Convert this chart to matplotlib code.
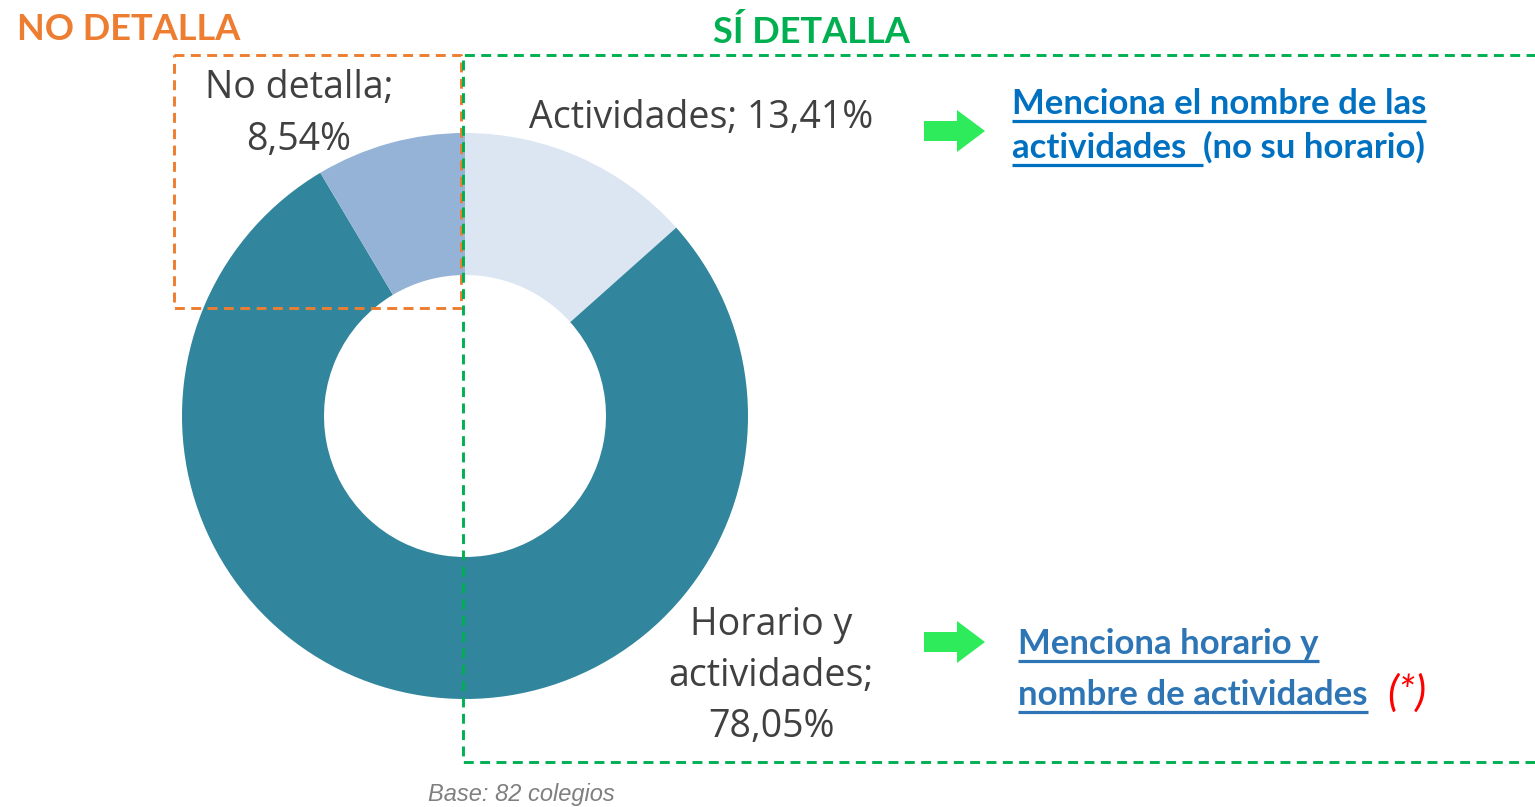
import matplotlib.pyplot as plt
from matplotlib.patches import Polygon
import numpy as np

W, H = 1535, 807

# donut shares, clockwise from the top
labels = ["Actividades", "Horario y\nactividades", "No detalla"]
shares = [13.41, 78.05, 8.54]
colors = ["#DCE6F2", "#31859C", "#95B3D7"]

base_note = "Base: 82 colegios"
note_top = ["Menciona el nombre de las", "actividades  "]
note_top_tail = "(no su horario)"
note_bottom = ["Menciona horario y", "nombre de actividades"]


def Y(y):
    # screen rows measured from the top
    return H - y


def pct(v):
    return f"{v:.2f}".replace(".", ",") + "%"


fig = plt.figure(figsize=(W / 100, H / 100), dpi=100)
ax = fig.add_axes([0, 0, 1, 1])
ax.set_xlim(0, W)
ax.set_ylim(0, H)
ax.axis("off")

ax.pie(shares, colors=colors, startangle=90, counterclock=False,
       center=(465, Y(416)), radius=283,
       wedgeprops=dict(width=142, linewidth=0))
ax.set_xlim(0, W)
ax.set_ylim(0, H)
ax.set_aspect("auto")

lab_kw = dict(family="Open Sans", fontsize=27, color="#404040",
              ha="center", va="center", linespacing=1.45)
ax.text(701, Y(118), f"{labels[0]}; {pct(shares[0])}", **lab_kw)
ax.text(771, Y(676), f"{labels[1]};\n{pct(shares[1])}", **lab_kw)
ax.text(299, Y(114), f"{labels[2]};\n{pct(shares[2])}", **lab_kw)

# headings
ax.text(17, Y(29), "NO DETALLA", family="Lato", weight="bold", fontsize=26,
        color="#ED7D31", ha="left", va="center")
ax.text(811, Y(32), "SÍ DETALLA", family="Lato", weight="bold", fontsize=26,
        color="#00B050", ha="center", va="center")

# dashed frames
dash = dict(linestyle=(0, (3.4, 2.2)), linewidth=2.1)
ax.plot([174, 461, 461, 174, 174], [Y(55), Y(55), Y(308), Y(308), Y(55)],
        color="#ED7D31", **dash)
ax.plot([1540, 463, 463, 1540], [Y(55), Y(55), Y(762), Y(762)],
        color="#00B050", **dash)


def arrow(x0, yc):
    pts = [(x0, yc - 10), (x0 + 33, yc - 10), (x0 + 33, yc - 21), (x0 + 61, yc),
           (x0 + 33, yc + 21), (x0 + 33, yc + 10), (x0, yc + 10)]
    ax.add_patch(Polygon([(px, Y(py)) for px, py in pts], closed=True,
                         facecolor="#2EEB5C", edgecolor="none"))


arrow(924, 131)
arrow(924, 642)

fig.canvas.draw()
renderer = fig.canvas.get_renderer()


def underlined(x, y, s, color, lw=2.3):
    t = ax.text(x, Y(y), s, family="Lato", weight="bold", fontsize=25,
                color=color, ha="left", va="baseline")
    bb = t.get_window_extent(renderer)
    ax.plot([bb.x0, bb.x1], [Y(y + 7)] * 2, color=color, linewidth=lw,
            solid_capstyle="butt")
    return bb


blue1 = "#0070C0"
underlined(1012, 114, note_top[0], blue1)
bb = underlined(1012, 158, note_top[1], blue1)
ax.text(bb.x1, Y(158), note_top_tail, family="Lato", weight="bold",
        fontsize=25, color=blue1, ha="left", va="baseline")

blue2 = "#2E75B6"
underlined(1018, 654, note_bottom[0], blue2)
bb = underlined(1018, 705, note_bottom[1], blue2)
ax.text(bb.x1 + 20, Y(706), "(*)", family="Lato", style="italic",
        fontsize=31, color="#FF0000", ha="left", va="baseline")

ax.text(428, Y(795), base_note, family="Liberation Sans", style="italic",
        fontsize=17, color="#808080", ha="left", va="center")

fig.savefig("out.png", dpi=100)
